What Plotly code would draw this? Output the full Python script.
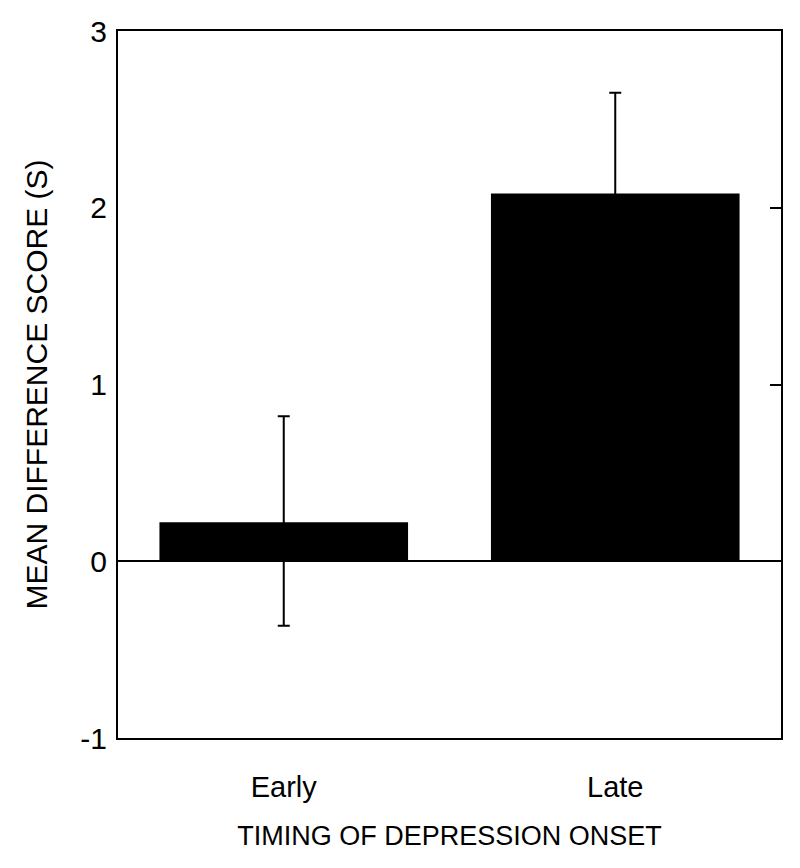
import plotly.graph_objects as go

# data
groups = ["Early", "Late"]
mean_diff = [0.22, 2.08]
err_plus = [0.60, 0.57]
err_minus = [0.585, 0.57]
y_ticks = [-1, 0, 1, 2, 3]
y_tick_text = ["-1", "0", "1", "2", "3"]

FONT = "Liberation Sans, Arial, sans-serif"

fig = go.Figure()
fig.add_trace(go.Bar(
    x=groups,
    y=mean_diff,
    width=0.75,
    marker=dict(color="black", line=dict(width=0)),
    error_y=dict(
        type="data",
        symmetric=False,
        array=err_plus,
        arrayminus=err_minus,
        color="black",
        thickness=2,
        width=6,
    ),
    showlegend=False,
))
# invisible trace to drive the right-hand tick axis
fig.add_trace(go.Scatter(x=groups, y=mean_diff, yaxis="y2", mode="markers",
                         marker=dict(opacity=0), showlegend=False, hoverinfo="skip"))

fig.update_layout(
    width=800,
    height=868,
    paper_bgcolor="white",
    plot_bgcolor="white",
    # page body adds an 8px offset, margins compensate for it
    margin=dict(l=110, r=27, t=23, b=138),
    font=dict(family=FONT, color="black"),
    xaxis=dict(
        range=[-0.5, 1.5],
        automargin=False,
        showline=True, linecolor="black", linewidth=2, mirror=True,
        ticks="", showgrid=False, zeroline=False,
        tickfont=dict(size=29),
        ticklabelstandoff=22,
        title=dict(text="TIMING OF DEPRESSION ONSET", font=dict(size=27), standoff=24),
    ),
    yaxis=dict(
        range=[-1, 3],
        automargin=False,
        tickvals=y_ticks,
        ticktext=y_tick_text,
        showline=True, linecolor="black", linewidth=2, mirror=True,
        ticks="", showgrid=False,
        zeroline=True, zerolinecolor="black", zerolinewidth=1.5,
        tickfont=dict(size=30),
        ticklabelstandoff=3,
        title=dict(text="MEAN DIFFERENCE SCORE (S)", font=dict(size=30), standoff=24),
    ),
    yaxis2=dict(
        range=[-1, 3],
        automargin=False,
        tickvals=[0, 1, 2, 3],
        overlaying="y",
        side="right",
        ticks="inside", ticklen=11, tickwidth=2, tickcolor="black",
        showticklabels=False, showgrid=False, zeroline=False, showline=False,
    ),
)

fig.write_html("out.html")
